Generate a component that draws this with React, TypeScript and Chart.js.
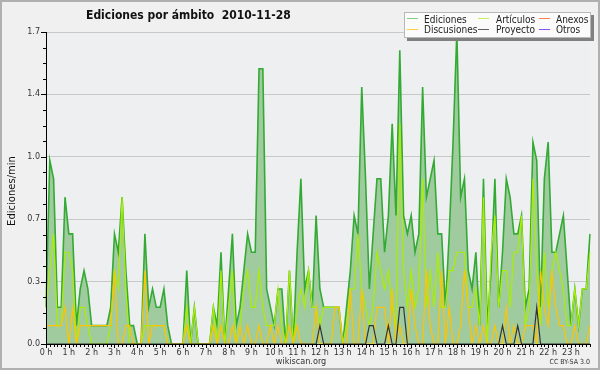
import React, { useEffect, useRef } from "react";
import { Chart, registerables } from "chart.js";
Chart.register(...registerables);

const FONT = '"DejaVu Sans", sans-serif';
const CFONT = '"DejaVu Sans Condensed", "DejaVu Sans", sans-serif';

const hourLabels = ["0 h","1 h","2 h","3 h","4 h","5 h","6 h","7 h","8 h","9 h","10 h","11 h","12 h","13 h","14 h","15 h","16 h","17 h","18 h","19 h","20 h","21 h","22 h","23 h"];
const minuteSlots = ["00","10","20","30","40","50"];
const slotLabels = hourLabels.flatMap((h) => minuteSlots.map((m) => h.replace(" h", ":") + m));

const yTickValues = [0, 0.34, 0.68, 1.02, 1.36, 1.7];

const ediciones = [
  0.2,1.0,0.9,0.2,0.2,0.8,0.6,0.6,0.1,0.3,
  0.4,0.3,0.1,0.1,0.1,0.1,0.1,0.2,0.6,0.5,
  0.8,0.4,0.1,0.1,0,0,0.6,0.2,0.3,0.2,
  0.2,0.3,0.1,0,0,0,0,0.4,0,0.2,
  0,0,0,0,0.2,0.1,0.5,0,0.3,0.6,
  0.1,0.2,0.4,0.6,0.5,0.5,1.5,1.5,0.3,0.2,
  0.1,0.3,0.3,0,0.4,0,0.5,0.9,0.3,0.4,
  0.2,0.7,0.3,0.2,0.2,0.2,0.2,0.2,0,0.2,
  0.4,0.7,0.6,1.4,0.9,0.3,0.6,0.9,0.9,0.5,
  0.7,1.2,0.7,1.6,0.7,0.6,0.7,0.5,0.6,1.4,
  0.8,0.9,1.0,0.6,0.6,0.2,0.6,1.1,1.7,0.8,
  0.9,0.4,0.3,0.5,0.1,0.9,0.1,0.4,0.9,0.2,
  0.5,0.9,0.8,0.6,0.6,0.7,0.2,0.3,1.1,1.0,
  0.2,0.9,1.1,0.5,0.5,0.6,0.7,0.4,0.1,0.3,
  0.1,0.3,0.3,0.6
];

const articulos = [
  0.2,0.4,0.6,0.1,0.1,0.5,0.5,0.4,0,0.2,
  0.2,0.1,0,0,0,0,0,0.1,0.4,0.3,
  0.8,0.3,0,0,0,0,0.1,0.1,0.1,0.1,
  0.1,0.1,0,0,0,0,0,0.2,0,0.2,
  0,0,0,0,0.2,0,0.4,0,0.2,0.4,
  0,0.1,0.3,0.4,0.2,0.2,0.4,0.2,0.1,0.1,
  0.1,0.3,0.1,0,0.4,0,0.2,0.3,0.2,0.4,
  0.2,0.2,0.1,0.2,0.2,0.2,0.2,0.2,0,0.1,
  0.3,0.3,0.6,0.3,0.2,0.1,0.2,0.5,0.4,0.3,
  0.4,0.2,0.1,1.2,0.4,0.2,0.4,0.2,0.3,0.9,
  0.2,0.4,0.2,0.5,0.2,0.2,0.4,0.4,0.5,0.5,
  0.5,0.2,0.2,0.3,0.1,0.8,0,0.5,0.7,0.2,
  0.4,0.4,0.2,0.5,0.5,0.7,0.1,0.2,0.9,0.4,
  0.1,0.5,0.2,0.4,0.5,0.4,0.3,0.1,0.1,0.3,
  0.1,0.3,0.3,0.5
];

const discusiones = [
  0.1,0.1,0.1,0.1,0.1,0.2,0,0.2,0,0.1,
  0.1,0.1,0.1,0.1,0.1,0.1,0.1,0.1,0.4,0,
  0,0.1,0.1,0,0,0,0.4,0,0.1,0.1,
  0.1,0.1,0,0,0,0,0,0.1,0,0,
  0,0,0,0,0.1,0,0.1,0,0,0.1,
  0,0.1,0,0.1,0,0,0.1,0,0,0.1,
  0,0.1,0,0,0.1,0,0.1,0,0,0,
  0,0.2,0,0,0,0,0.2,0.2,0,0,
  0.3,0,0,0.3,0,0,0,0.2,0.2,0.2,
  0,0.3,0,0.1,0,0,0.3,0.1,0,0,
  0.4,0.1,0,0,0.4,0,0.2,0,0,0.1,
  0.4,0.2,0,0.1,0,0.1,0,0,0.1,0,
  0,0.2,0,0.1,0,0,0.1,0.1,0.1,0,
  0.4,0.2,0.1,0.4,0.2,0.1,0.1,0,0,0.1,
  0,0,0,0.1
];

const proyecto = [
  0,0,0,0,0,0,0,0,0,0,
  0,0,0,0,0,0,0,0,0,0,
  0,0,0,0,0,0,0,0,0,0,
  0,0,0,0,0,0,0,0,0,0,
  0,0,0,0,0,0,0,0,0,0,
  0,0,0,0,0,0,0,0,0,0,
  0,0,0,0,0,0,0,0,0,0,
  0,0,0.1,0,0,0,0,0,0,0,
  0,0,0,0,0,0.1,0.1,0,0,0,
  0.1,0,0,0.2,0.2,0,0,0,0,0,
  0,0,0,0,0,0,0,0,0,0,
  0,0,0,0,0,0,0,0,0,0,
  0.1,0,0,0,0.1,0,0,0,0,0.2,
  0,0,0,0,0,0,0,0,0,0,
  0,0,0,0
];

const anexos: number[] = [];
const otros: number[] = [];

const legendItems = [
  { label: "Ediciones", color: "#7fd07f" },
  { label: "Artículos", color: "#c8f050" },
  { label: "Anexos", color: "#ff8050" },
  { label: "Discusiones", color: "#ffd040" },
  { label: "Proyecto", color: "#606060" },
  { label: "Otros", color: "#9050f0" },
];

const decor = {
  id: "decor",
  beforeDraw(chart: any) {
    const { ctx, chartArea: a, width, height } = chart;
    ctx.save();
    ctx.fillStyle = "#f0f0f0";
    ctx.fillRect(0, 0, width, height);
    ctx.fillStyle = "#eeeff1";
    ctx.fillRect(a.left, a.top, a.right - a.left, a.bottom - a.top);
    ctx.restore();
  },
  afterDatasetsDraw(chart: any) {
    const { ctx, chartArea: a, scales } = chart;
    const x = scales.x, y = scales.y;
    ctx.save();
    ctx.strokeStyle = "#000";
    ctx.lineWidth = 1;
    ctx.beginPath();
    ctx.moveTo(a.left + 0.5, a.top);
    ctx.lineTo(a.left + 0.5, a.bottom + 0.5);
    ctx.lineTo(a.right + 1, a.bottom + 0.5);
    for (let k = 0; k <= 20; k++) {
      const py = Math.round(y.getPixelForValue(k * 0.085)) + 0.5;
      const len = k % 4 === 0 ? 5 : 3;
      ctx.moveTo(a.left - len, py);
      ctx.lineTo(a.left, py);
    }
    for (let i = 0; i < slotLabels.length; i++) {
      const px = Math.round(x.getPixelForValue(i)) + 0.5;
      ctx.moveTo(px, a.bottom);
      ctx.lineTo(px, a.bottom + (i % 6 === 0 ? 4 : 3));
    }
    ctx.stroke();
    ctx.restore();
  },
  afterDraw(chart: any) {
    const { ctx, width, height } = chart;
    ctx.save();
    // title
    ctx.fillStyle = "#111";
    ctx.font = `bold 12px ${CFONT}`;
    ctx.textBaseline = "alphabetic";
    ctx.textAlign = "left";
    ctx.fillText("Ediciones por ámbito  2010-11-28", 86, 19);
    // y title
    ctx.save();
    ctx.translate(15, 191);
    ctx.rotate(-Math.PI / 2);
    ctx.textAlign = "center";
    ctx.font = `10px ${FONT}`;
    ctx.fillStyle = "#111";
    ctx.fillText("Ediciones/min", 0, 0);
    ctx.restore();
    // legend
    ctx.fillStyle = "#808080";
    ctx.fillRect(407, 15, 187, 26);
    ctx.fillStyle = "#fbfbfb";
    ctx.fillRect(404, 12, 187, 26);
    ctx.strokeStyle = "#b8b8b8";
    ctx.lineWidth = 1;
    ctx.strokeRect(404.5, 12.5, 186, 25);
    const colsLine = [407, 478, 539];
    const colsText = [424, 496, 556];
    ctx.font = `10px ${CFONT}`;
    legendItems.forEach((it, idx) => {
      const c = idx % 3, r = Math.floor(idx / 3);
      const ly = r === 0 ? 18.5 : 29.5;
      ctx.strokeStyle = it.color;
      ctx.beginPath();
      ctx.moveTo(colsLine[c], ly);
      ctx.lineTo(colsLine[c] + 11, ly);
      ctx.stroke();
      ctx.fillStyle = "#222";
      ctx.textAlign = "left";
      ctx.fillText(it.label, colsText[c], r === 0 ? 23 : 33);
    });
    // footer
    ctx.fillStyle = "#333";
    ctx.font = `9px ${CFONT}`;
    ctx.textAlign = "center";
    ctx.fillText("wikiscan.org", 301, 364);
    ctx.font = `7px ${CFONT}`;
    ctx.textAlign = "right";
    ctx.fillText("CC BY-SA 3.0", 590, 364);
    // outer border
    ctx.strokeStyle = "#b0b0b0";
    ctx.lineWidth = 2;
    ctx.strokeRect(1, 1, width - 2, height - 2);
    ctx.restore();
  },
};

export default function App() {
  const ref = useRef<HTMLCanvasElement>(null);
  useEffect(() => {
    document.body.style.margin = "0";
    const line = (label: string, data: number[], color: string, order: number, extra: any = {}) => ({
      label, data, borderColor: color, borderWidth: 1.2, pointRadius: 0, tension: 0, fill: false, order, ...extra,
    });
    const chart = new Chart(ref.current as HTMLCanvasElement, {
      type: "line",
      data: {
        labels: slotLabels,
        datasets: [
          line("Ediciones", ediciones, "#33aa33", 6, { fill: "origin", backgroundColor: "#9fcb9f", borderWidth: 1.6 }),
          line("Artículos", articulos, "#aaee00", 3),
          line("Anexos", anexos, "#ff7744", 4),
          line("Discusiones", discusiones, "#ffc400", 2),
          line("Proyecto", proyecto, "#333333", 1),
          line("Otros", otros, "#9040f0", 5),
        ],
      },
      options: {
        animation: false,
        responsive: false,
        devicePixelRatio: 1,
        layout: { padding: { top: 32, right: 10, left: 0, bottom: 0 } },
        plugins: { legend: { display: false }, tooltip: { enabled: false }, title: { display: false } },
        scales: {
          x: {
            type: "category",
            offset: false,
            grid: { display: false, drawTicks: false },
            border: { display: false },
            ticks: {
              autoSkip: false, maxRotation: 0, minRotation: 0, padding: 4,
              color: "#333", font: { size: 8, family: FONT },
              callback: (_v: any, i: number) => (i % 6 === 0 ? hourLabels[i / 6] : ""),
            },
            afterFit: (s: any) => { s.height = 26; },
          },
          y: {
            type: "linear",
            min: 0,
            max: 1.7,
            afterBuildTicks: (s: any) => { s.ticks = yTickValues.map((v) => ({ value: v })); },
            grid: { color: "#c8c8c8", drawTicks: false },
            border: { display: false },
            ticks: {
              padding: 6, color: "#333", font: { size: 8, family: FONT },
              callback: (v: any) => Number(v).toFixed(1),
            },
            afterFit: (s: any) => { s.width = 46; },
          },
        },
      },
      plugins: [decor],
    });
    return () => chart.destroy();
  }, []);
  return <canvas ref={ref} width={600} height={370} style={{ display: "block" }} />;
}
